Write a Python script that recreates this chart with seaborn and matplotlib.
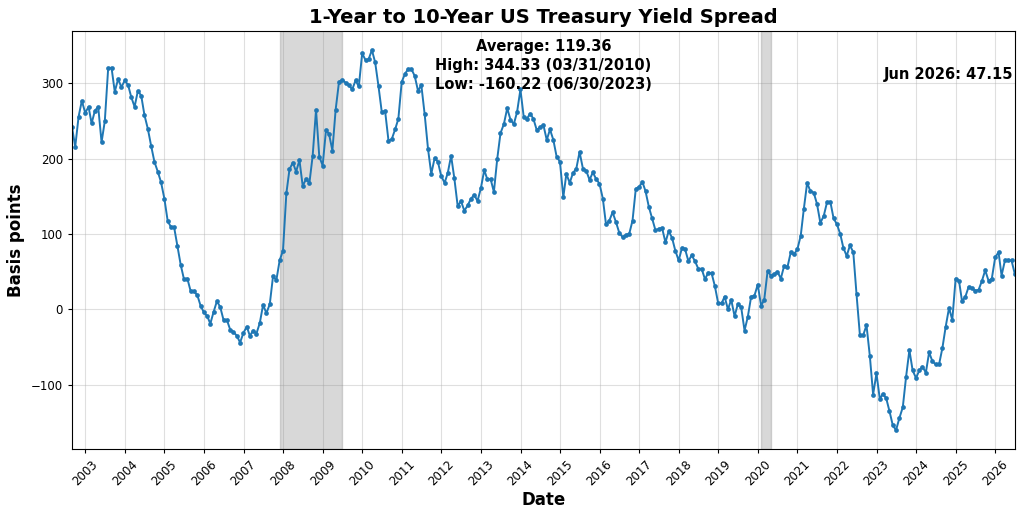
import pandas as pd
import matplotlib
matplotlib.use('Agg')
import matplotlib.pyplot as plt
import matplotlib.dates as mdates
import seaborn as sns

# monthly spread (bp), end of month, Aug 2002 .. Jun 2026
start_month = '2002-08-31'
spread = [
    242, 216, 256, 277, 261, 269, 247, 264, 269, 222, 250, 320,   # 2002-08 .. 2003-07
    321, 289, 306, 295, 304, 298, 282, 269, 290, 284, 258, 240,   # 2003-08 .. 2004-07
    217, 196, 183, 169, 147, 117, 110, 109, 84, 59, 40, 41,       # 2004-08 .. 2005-07
    24, 24, 19, 5, -4, -9, -19, -3, 11, 3, -14, -14,              # 2005-08 .. 2006-07
    -27, -30, -35, -44, -31, -23, -35, -28, -32, -18, 6, -5,      # 2006-08 .. 2007-07
    7, 44, 39, 65, 78, 154, 186, 195, 183, 198, 164, 173,         # 2007-08 .. 2008-07
    168, 204, 265, 203, 191, 238, 233, 211, 265, 302, 305, 301,   # 2008-08 .. 2009-07
    298, 292, 304, 296, 340, 331, 332, 344.33, 328, 296, 262, 263,  # 2009-08 .. 2010-07
    224, 226, 239, 253, 302, 313, 319, 319, 310, 290, 298, 259,   # 2010-08 .. 2011-07
    213, 180, 201, 196, 177, 168, 181, 204, 174, 137, 144, 131,   # 2011-08 .. 2012-07
    138, 147, 152, 144, 161, 185, 173, 173, 156, 200, 234, 246,   # 2012-08 .. 2013-07
    267, 252, 246, 262, 292, 255, 253, 260, 253, 238, 242, 245,   # 2013-08 .. 2014-07
    225, 239, 225, 203, 196, 149, 180, 168, 181, 187, 209, 187,   # 2014-08 .. 2015-07
    184, 172, 182, 173, 167, 147, 113, 118, 129, 116, 102, 96,    # 2015-08 .. 2016-07
    99, 100, 118, 160, 163, 169, 157, 136, 121, 105, 107, 108,    # 2016-08 .. 2017-07
    89, 104, 95, 78, 65, 82, 80, 64, 72, 64, 54, 54,              # 2017-08 .. 2018-07
    40, 49, 48, 31, 8, 8, 17, 0, 13, -9, 7, 3,                    # 2018-08 .. 2019-07
    -28, -10, 17, 18, 33, 5, 13, 51, 45, 47, 50, 41,              # 2019-08 .. 2020-07
    58, 56, 76, 73, 80, 98, 133, 168, 157, 155, 140, 115,         # 2020-08 .. 2021-07
    124, 142, 143, 121, 113, 100, 82, 71, 85, 76, 20, -34,        # 2021-08 .. 2022-07
    -34, -21, -62, -113, -85, -119, -112, -118, -135, -154, -160.22, -144,  # 2022-08 .. 2023-07
    -130, -90, -54, -81, -91, -81, -76, -84, -57, -69, -73, -73,  # 2023-08 .. 2024-07
    -51, -23, 2, -14, 41, 38, 11, 17, 30, 28, 25, 26,             # 2024-08 .. 2025-07
    38, 52, 38, 41, 69, 76, 45, 65, 65, 65, 47.15,                # 2025-08 .. 2026-06
]

recessions = [('2007-12-01', '2009-06-30'), ('2020-02-01', '2020-04-30')]

stats_text = 'Average: 119.36\nHigh: 344.33 (03/31/2010)\nLow: -160.22 (06/30/2023)'
latest_text = 'Jun 2026: 47.15'

df = pd.DataFrame({'Date': pd.date_range(start_month, periods=len(spread), freq='ME'),
                   'Spread': spread})

sns.set_style('ticks', rc={'text.color': 'black', 'axes.labelcolor': 'black',
                           'xtick.color': 'black', 'ytick.color': 'black',
                           'axes.edgecolor': 'black'})
plt.rcParams['xtick.labelsize'] = 8.5
plt.rcParams['ytick.labelsize'] = 8.5
plt.rcParams['xtick.major.size'] = 3
plt.rcParams['ytick.major.size'] = 3

fig, ax = plt.subplots(figsize=(10.24, 5.18), dpi=100)

for s, e in recessions:
    ax.axvspan(pd.Timestamp(s), pd.Timestamp(e), color='gray', alpha=0.3)

sns.lineplot(x='Date', y='Spread', data=df, marker='o', markersize=3.4,
             markeredgewidth=0, color='#1f77b4', linewidth=1.4, ax=ax)

ax.set_xlim(df['Date'].min(), df['Date'].max())
ax.xaxis.set_major_locator(mdates.YearLocator())
ax.xaxis.set_major_formatter(mdates.DateFormatter('%Y'))
plt.setp(ax.get_xticklabels(), rotation=45)
ax.grid(True, color='#b0b0b0', alpha=0.4, linewidth=0.8)

ax.set_title('1-Year to 10-Year US Treasury Yield Spread', fontsize=14, fontweight='bold')
ax.set_xlabel('Date', fontsize=12, fontweight='bold', labelpad=2)
ax.set_ylabel('Basis points', fontsize=12, fontweight='bold')

ax.text(0.5, 0.98, stats_text, transform=ax.transAxes, ha='center', va='top',
        fontsize=10.5, fontweight='bold', linespacing=1.3)
ax.text(0.998, 0.895, latest_text, transform=ax.transAxes, ha='right', va='center',
        fontsize=10.5, fontweight='bold')

plt.subplots_adjust(left=0.0703, right=0.991, top=0.94, bottom=0.133)
plt.savefig('out.png', dpi=100)
